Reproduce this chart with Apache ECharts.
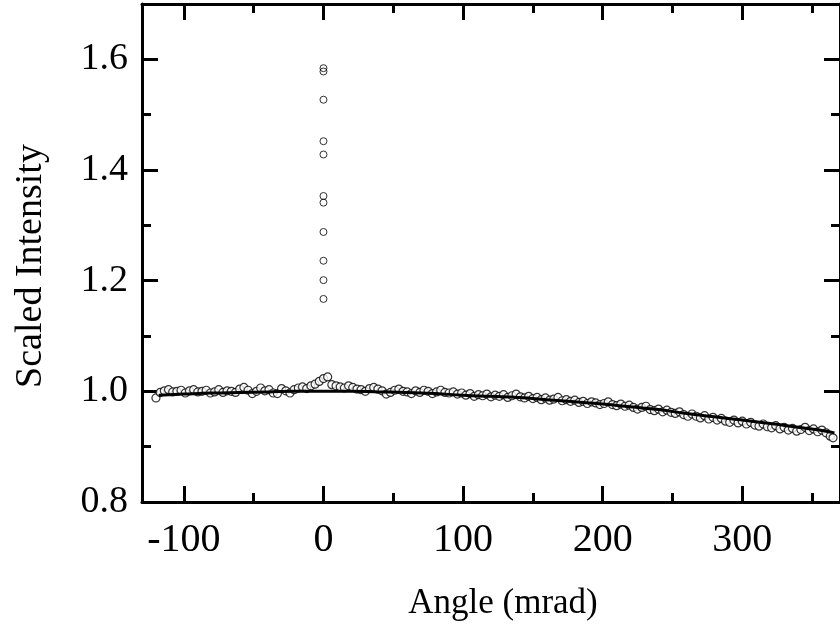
<!DOCTYPE html>
<html>
<head>
<meta charset="utf-8">
<script src="https://cdn.jsdelivr.net/npm/echarts@6/dist/echarts.min.js"></script>
<style>html,body{margin:0;padding:0;background:#fff}#c{width:840px;height:630px}</style>
</head>
<body>
<div id="c"></div>
<script>
// Scan data (mrad, scaled intensity)
var scanX = [-120,-117,-114,-111,-108,-105,-102,-99,-96,-93,-90,-87,-84,-81,-78,-75,-72,-69,-66,-63,-60,-57,-54,-51,-48,-45,-42,-39,-36,-33,-30,-27,-24,-21,-18,-15,-12,-9,-6,-3,0,3,6,9,12,15,18,21,24,27,30,33,36,39,42,45,48,51,54,57,60,63,66,69,72,75,78,81,84,87,90,93,96,99,102,105,108,111,114,117,120,123,126,129,132,135,138,141,144,147,150,153,156,159,162,165,168,171,174,177,180,183,186,189,192,195,198,201,204,207,210,213,216,219,222,225,228,231,234,237,240,243,246,249,252,255,258,261,264,267,270,273,276,279,282,285,288,291,294,297,300,303,306,309,312,315,318,321,324,327,330,333,336,339,342,345,348,351,354,357,360,363,365];
var scanY = [0.988,0.998,1.001,1.003,0.999,1.000,1.002,0.997,1.001,1.003,0.999,1.000,1.002,0.997,0.999,1.003,0.998,1.001,1.000,0.998,1.004,1.007,1.002,0.996,1.000,1.006,1.001,1.003,0.997,0.996,1.005,1.001,0.997,1.003,1.006,1.008,1.005,1.010,1.013,1.018,1.023,1.026,1.012,1.010,1.008,1.006,1.010,1.007,1.004,1.003,1.000,1.005,1.007,1.004,1.001,0.995,0.998,1.002,1.004,1.000,0.999,0.996,1.001,0.998,1.002,1.000,0.996,0.999,1.002,0.998,0.997,0.999,0.995,0.997,0.993,0.996,0.991,0.994,0.992,0.995,0.990,0.993,0.991,0.994,0.989,0.992,0.995,0.990,0.988,0.991,0.987,0.989,0.985,0.988,0.984,0.986,0.989,0.983,0.985,0.982,0.984,0.980,0.982,0.978,0.981,0.979,0.976,0.978,0.981,0.976,0.974,0.977,0.973,0.975,0.971,0.968,0.971,0.973,0.967,0.965,0.968,0.963,0.966,0.962,0.960,0.963,0.958,0.955,0.959,0.955,0.952,0.956,0.950,0.953,0.948,0.951,0.946,0.944,0.948,0.943,0.946,0.941,0.944,0.939,0.937,0.941,0.936,0.934,0.938,0.932,0.935,0.930,0.933,0.928,0.931,0.935,0.929,0.932,0.927,0.930,0.925,0.919,0.916];
// Points stacked at zero angle
var spikeX = [0,0,0,0,0,0,0,0,0,0,0];
var spikeY = [1.584,1.578,1.527,1.452,1.428,1.353,1.341,1.288,1.236,1.201,1.167];
// Fitted curve
var fitX = [-118,-100,-80,-60,-40,-20,0,20,40,60,80,100,120,140,160,180,200,220,240,260,280,300,320,340,360,366];
var fitY = [0.993,0.995,0.997,0.998,0.999,1.000,1.000,1.000,0.999,0.998,0.996,0.993,0.991,0.989,0.985,0.981,0.977,0.972,0.967,0.960,0.954,0.948,0.942,0.935,0.928,0.925];
// Ticks
var xMajor = [-100,0,100,200,300];
var xMinor = [-50,50,150,250,350];
var yMajor = [0.8,1.0,1.2,1.4,1.6];
var yMinor = [0.9,1.1,1.3,1.5];
var xTitle = 'Angle (mrad)';
var yTitle = 'Scaled Intensity';

var FONT = '"Liberation Serif", "Times New Roman", serif';
var chart = echarts.init(document.getElementById('c'));
function pairs(xs, ys){ return xs.map(function(x,i){ return [x, ys[i]]; }); }
var lineStyle = {color:'#000', width:3};
function xAx(pos, vals, len, showLine, showLabel, extra){
  return Object.assign({
    type:'value', position:pos, min:-130, max:370,
    axisLine:{show:showLine, onZero:false, lineStyle:lineStyle},
    axisTick:{show:true, inside:true, length:len, customValues:vals, lineStyle:lineStyle},
    axisLabel:{show:showLabel, customValues:vals, fontFamily:FONT, fontSize:40, color:'#000', margin:18},
    splitLine:{show:false}
  }, extra||{});
}
function yAx(pos, vals, len, showLine, showLabel, extra){
  return Object.assign({
    type:'value', position:pos, min:0.8, max:1.7,
    axisLine:{show:showLine, onZero:false, lineStyle:lineStyle},
    axisTick:{show:true, inside:true, length:len, customValues:vals, lineStyle:lineStyle},
    axisLabel:{show:showLabel, customValues:vals, fontFamily:FONT, fontSize:38, color:'#000', margin:14,
      formatter:function(v){ return v.toFixed(1); }},
    splitLine:{show:false}
  }, extra||{});
}
chart.setOption({
  backgroundColor:'#fff',
  animation:false,
  grid:{left:142, right:-8, top:4, bottom:128, containLabel:false},
  xAxis:[
    xAx('bottom', xMajor, 16, true, true),
    xAx('bottom', xMinor, 9, false, false),
    xAx('top', xMajor, 16, true, false),
    xAx('top', xMinor, 9, false, false)
  ],
  yAxis:[
    yAx('left', yMajor, 16, true, true),
    yAx('left', yMinor, 9, false, false),
    yAx('right', yMajor, 16, true, false),
    yAx('right', yMinor, 9, false, false)
  ],
  graphic:[
    {type:'text', x:31, y:266, rotation:Math.PI/2, silent:true,
      style:{text:yTitle, fontFamily:FONT, fontSize:38, fill:'#000', align:'center', verticalAlign:'middle'}},
    {type:'text', x:503, y:604, silent:true,
      style:{text:xTitle, fontFamily:FONT, fontSize:35, fill:'#000', align:'center', verticalAlign:'middle'}}
  ],
  series:[
    {type:'scatter', xAxisIndex:0, yAxisIndex:0, data:pairs(scanX, scanY), symbol:'circle', symbolSize:8,
      itemStyle:{color:'#fff', borderColor:'#000', borderWidth:1.2}, z:3},
    {type:'scatter', xAxisIndex:0, yAxisIndex:0, data:pairs(spikeX, spikeY), symbol:'circle', symbolSize:7,
      itemStyle:{color:'rgba(255,255,255,0)', borderColor:'#000', borderWidth:1}, z:3},
    {type:'line', xAxisIndex:0, yAxisIndex:0, data:pairs(fitX, fitY), smooth:true, showSymbol:false,
      lineStyle:{color:'#000', width:3}, z:5}
  ]
});
</script>
</body>
</html>
